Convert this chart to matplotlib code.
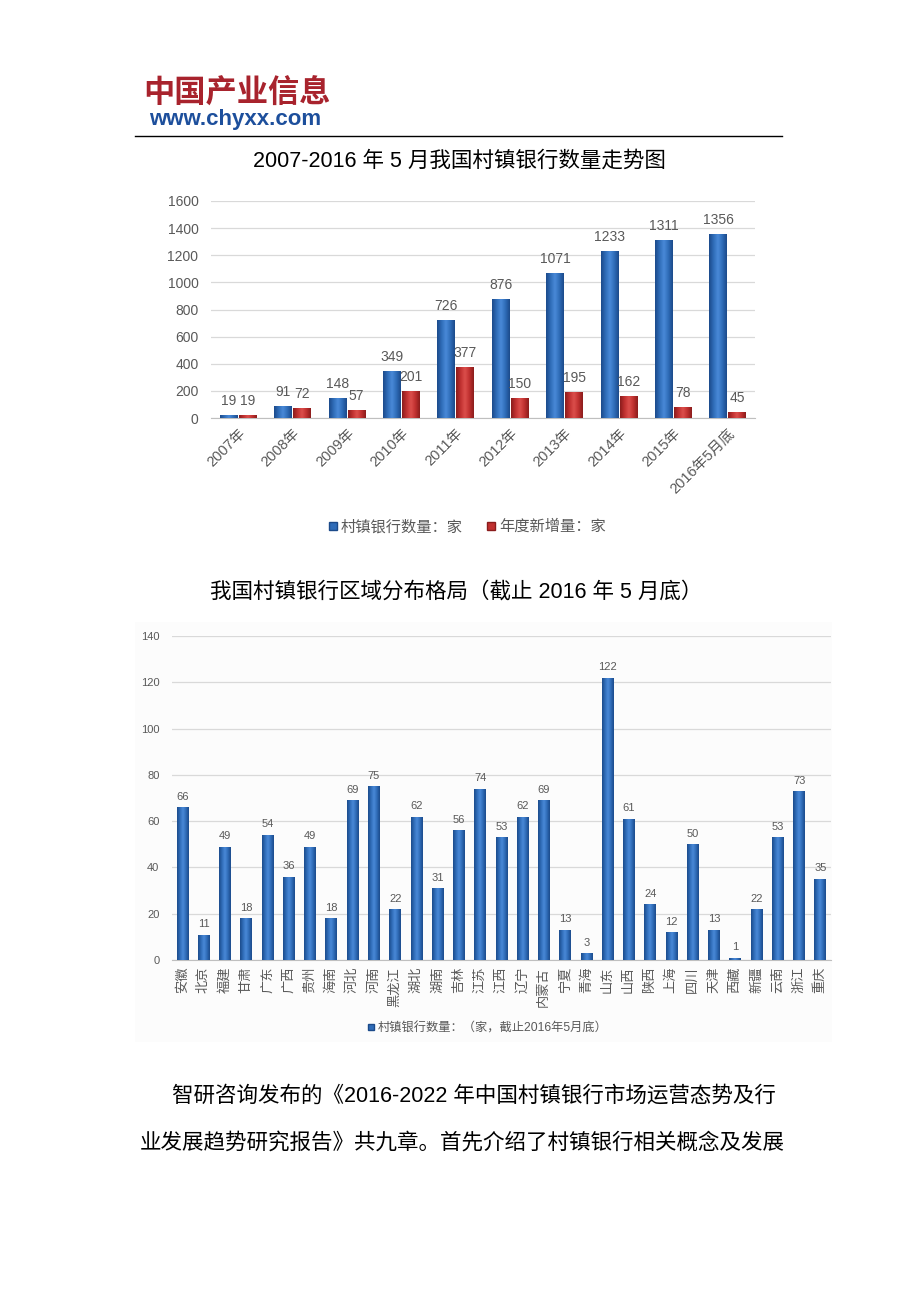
import numpy as np
import matplotlib.pyplot as plt
from matplotlib.colors import LinearSegmentedColormap
from matplotlib.patches import Rectangle
from matplotlib.lines import Line2D

plt.rcParams['font.family'] = ['Liberation Sans', 'Noto Sans CJK SC', 'DejaVu Sans']

# chart 1 data
years = ['2007年', '2008年', '2009年', '2010年', '2011年', '2012年',
         '2013年', '2014年', '2015年', '2016年5月底']
total_banks = [19, 91, 148, 349, 726, 876, 1071, 1233, 1311, 1356]
new_banks = [19, 72, 57, 201, 377, 150, 195, 162, 78, 45]

# chart 2 data
provinces = ['安徽', '北京', '福建', '甘肃', '广东', '广西', '贵州', '海南', '河北', '河南',
             '黑龙江', '湖北', '湖南', '吉林', '江苏', '江西', '辽宁', '内蒙古', '宁夏', '青海',
             '山东', '山西', '陕西', '上海', '四川', '天津', '西藏', '新疆', '云南', '浙江', '重庆']
province_counts = [66, 11, 49, 18, 54, 36, 49, 18, 69, 75, 22, 62, 31, 56, 74, 53, 62, 69,
                   13, 3, 122, 61, 24, 12, 50, 13, 1, 22, 53, 73, 35]

W, H = 920, 1302
GREY = '#595959'
GRID = '#d9d9d9'

blue_cmap = LinearSegmentedColormap.from_list(
    'b', ['#1b4a8a', '#2f6cb8', '#4a8ad8', '#2f6cb8', '#1b4a8a'])
red_cmap = LinearSegmentedColormap.from_list(
    'r', ['#8a1c1c', '#c0302f', '#dc4f4c', '#c0302f', '#8a1c1c'])


def fx(x):
    return x / W


def fy(y):
    return 1 - y / H


def shade(ax, bars, cmap):
    # cylinder-like horizontal gradient clipped to each bar
    grad = np.linspace(0, 1, 64).reshape(1, -1)
    for b in bars:
        x0, y0 = b.get_xy()
        w, h = b.get_width(), b.get_height()
        if h <= 0:
            continue
        im = ax.imshow(grad, extent=(x0, x0 + w, y0, y0 + h), cmap=cmap,
                       aspect='auto', interpolation='bicubic', zorder=3)
        im.set_clip_path(b)


def style_axes(ax):
    ax.set_facecolor('none')
    for s in ['left', 'right', 'top']:
        ax.spines[s].set_visible(False)
    ax.spines['bottom'].set_color('#bfbfbf')
    ax.yaxis.grid(True, color=GRID, linewidth=0.9, zorder=0)
    ax.set_axisbelow(True)
    ax.tick_params(length=0, colors=GREY)


fig = plt.figure(figsize=(W / 100, H / 100), dpi=100)

# header
fig.text(fx(143), fy(94), '中国产业信息', fontsize=22.5, fontweight='heavy',
         color='#a8232d', family=['Noto Sans CJK SC'], va='center', ha='left')
fig.text(fx(149), fy(119), 'www.chyxx.com', fontsize=16, fontweight='bold',
         color='#1d4f9c', va='center', ha='left')
fig.add_artist(Line2D([fx(135), fx(782)], [fy(136), fy(136)], color='black', lw=1))

fig.text(fx(459), fy(161), '2007-2016 年 5 月我国村镇银行数量走势图', fontsize=15.5,
         ha='center', va='center')

# chart 1
ax1 = fig.add_axes([fx(211), fy(418), (755 - 211) / W, (418 - 201) / H])
style_axes(ax1)
x = np.arange(len(years))
bw = 0.33
b1 = ax1.bar(x - bw / 2 - 0.01, total_banks, bw, color='#2f6cb8', zorder=2)
b2 = ax1.bar(x + bw / 2 + 0.01, new_banks, bw, color='#c0302f', zorder=2)
shade(ax1, b1, blue_cmap)
shade(ax1, b2, red_cmap)
for bars, vals in [(b1, total_banks), (b2, new_banks)]:
    for b, v in zip(bars, vals):
        ax1.annotate(str(v), (b.get_x() + b.get_width() / 2, v), xytext=(0, 5),
                     textcoords='offset points', ha='center', va='bottom',
                     fontsize=10, color=GREY)
ax1.set_xlim(-0.5, len(years) - 0.5)
ax1.set_ylim(0, 1600)
ax1.set_yticks(range(0, 1601, 200))
ax1.set_xticks(x)
ax1.set_xticklabels(years, rotation=45, ha='right', rotation_mode='anchor', fontsize=10.5)
ax1.tick_params(axis='y', labelsize=10, pad=9)
ax1.tick_params(axis='x', pad=6)

handles1 = [Line2D([], [], marker='s', ls='none', color='#2f6cb8', markersize=6,
                   markeredgecolor='#1b4a8a'),
            Line2D([], [], marker='s', ls='none', color='#c0302f', markersize=6,
                   markeredgecolor='#8a1c1c')]
fig.legend(handles1, ['村镇银行数量：家', '年度新增量：家'], loc='center',
           bbox_to_anchor=(fx(466), fy(527)), ncol=2, frameon=False, fontsize=11,
           handletextpad=0.1, columnspacing=1.5, labelcolor=GREY, handlelength=0.8)

# chart 2
fig.text(fx(456), fy(592), '我国村镇银行区域分布格局（截止 2016 年 5 月底）', fontsize=15.5,
         ha='center', va='center')
fig.add_artist(Rectangle((fx(135), fy(1042)), (832 - 135) / W, (1042 - 622) / H,
                         transform=fig.transFigure, facecolor='#fcfcfc',
                         edgecolor='none', zorder=0))

ax2 = fig.add_axes([fx(172), fy(960), (831 - 172) / W, (960 - 636) / H])
style_axes(ax2)
xp = np.arange(len(provinces))
b3 = ax2.bar(xp, province_counts, 0.56, color='#2f6cb8', zorder=2)
shade(ax2, b3, blue_cmap)
for b, v in zip(b3, province_counts):
    ax2.annotate(str(v), (b.get_x() + b.get_width() / 2, v), xytext=(0, 4),
                 textcoords='offset points', ha='center', va='bottom',
                 fontsize=8, color=GREY)
ax2.set_xlim(-0.5, len(provinces) - 0.5)
ax2.set_ylim(0, 140)
ax2.set_yticks(range(0, 141, 20))
ax2.set_xticks(xp)
ax2.set_xticklabels(provinces, rotation=90, ha='center', va='top', fontsize=9.5)
ax2.tick_params(axis='y', labelsize=8, pad=9)
ax2.tick_params(axis='x', pad=5)

handles2 = [Line2D([], [], marker='s', ls='none', color='#2f6cb8', markersize=4.5,
                   markeredgecolor='#1b4a8a')]
fig.legend(handles2, ['村镇银行数量：（家，截止2016年5月底）'], loc='center',
           bbox_to_anchor=(fx(487), fy(1028)), frameon=False, fontsize=8.8,
           handletextpad=0.1, labelcolor=GREY, handlelength=0.8)

# body text
fig.text(fx(172), fy(1096), '智研咨询发布的《2016-2022 年中国村镇银行市场运营态势及行',
         fontsize=15.5, ha='left', va='center')
fig.text(fx(140), fy(1143), '业发展趋势研究报告》共九章。首先介绍了村镇银行相关概念及发展',
         fontsize=15.5, ha='left', va='center')

fig.savefig('out.png', dpi=100, facecolor='white')
